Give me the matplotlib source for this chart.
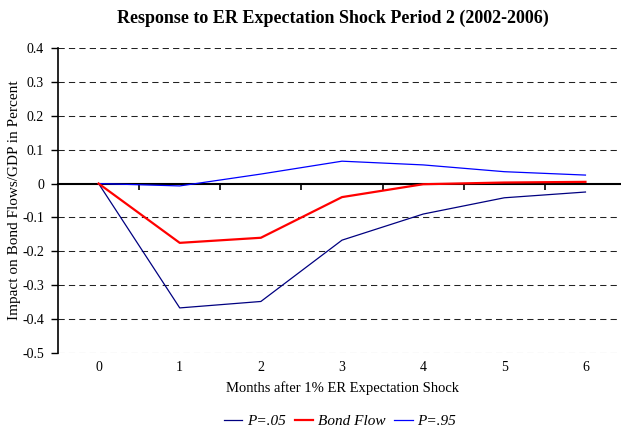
import matplotlib.pyplot as plt

months = [0, 1, 2, 3, 4, 5, 6]
p05 = [0, -0.367, -0.348, -0.167, -0.09, -0.042, -0.025]
bond_flow = [0, -0.175, -0.16, -0.04, -0.002, 0.003, 0.005]
p95 = [0, -0.007, 0.028, 0.066, 0.055, 0.035, 0.025]
yticks = [0.4, 0.3, 0.2, 0.1, 0, -0.1, -0.2, -0.3, -0.4, -0.5]

plt.rcParams['font.family'] = ['Liberation Serif', 'DejaVu Serif']

fig = plt.figure(figsize=(6.21, 4.29), dpi=100)
ax = fig.add_axes([0.0934, 0.1772, 0.9147, 0.7109])

# dashed gridlines at every y tick except zero
for y in yticks:
    if y != 0:
        ax.axhline(y, color='#222222', lw=0.75, ls=(0, (6, 4)), zorder=1)

ax.plot(months, p05, color='#000080', lw=0.9, label='P=.05', zorder=3)
ax.plot(months, bond_flow, color='#FF0000', lw=1.6, label='Bond Flow', zorder=4)
ax.plot(months, p95, color='#0000FF', lw=0.9, label='P=.95', zorder=3)

ax.set_xlim(-0.5, 6.5)
ax.set_ylim(-0.5, 0.4)
ax.set_yticks(yticks)
ax.set_yticklabels(['%g' % y for y in yticks], fontsize=10)
ax.tick_params(axis='y', direction='out', length=5, width=1, pad=5)

for s in ['top', 'right']:
    ax.spines[s].set_visible(False)
ax.spines['left'].set_linewidth(1.2)
ax.spines['bottom'].set_position(('data', 0))
ax.spines['bottom'].set_linewidth(1.5)
ax.spines['bottom'].set_zorder(2)
ax.set_xticks([m + 0.5 for m in months[:-1]])
ax.set_xticklabels([])
ax.tick_params(axis='x', direction='out', length=4, width=1.2)

sec = ax.secondary_xaxis(0)
sec.set_xticks(months)
sec.set_xticklabels([str(m) for m in months], fontsize=10)
sec.tick_params(length=0, pad=6)
sec.spines['bottom'].set_visible(False)
sec.set_xlabel('Months after 1% ER Expectation Shock', fontsize=10.5, labelpad=5)

ax.set_ylabel('Impact on Bond Flows/GDP in Percent', fontsize=11)
ax.yaxis.set_label_coords(-0.066, 0.5)

fig.text(333 / 621, 1 - 18 / 429, 'Response to ER Expectation Shock Period 2 (2002-2006)',
         ha='center', va='center', fontsize=13, fontweight='bold')

fig.legend(loc='center', bbox_to_anchor=(340 / 621, 1 - 421 / 429), ncol=3, frameon=False,
           prop={'style': 'italic', 'size': 11}, handlelength=1.2, columnspacing=0.6,
           handletextpad=0.3)

fig.savefig('out.png', dpi=100)
